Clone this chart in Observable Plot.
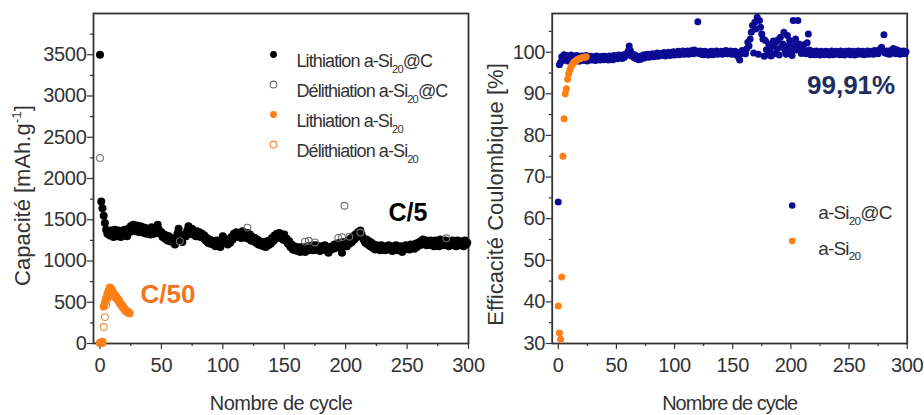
<!DOCTYPE html>
<html>
<head>
<meta charset="utf-8">
<script src="https://cdn.jsdelivr.net/npm/d3@7"></script>
<script src="https://cdn.jsdelivr.net/npm/@observablehq/plot@0.6"></script>
<style>
  html, body { margin: 0; padding: 0; background: #fff; }
  #figure { position: relative; width: 924px; height: 415px; overflow: hidden; }
  #figure > svg { position: absolute; top: 0; }
  .ticks text { letter-spacing: -0.3px; }
  .legend-l text { letter-spacing: -0.9px; }
  .legend-r text { letter-spacing: -0.8px; }
  .xtitle-l text { letter-spacing: -0.5px; }
  .xtitle-r text { letter-spacing: -1px; }
</style>
</head>
<body>
<div id="figure"></div>
<script>
// ---- Axis ticks -----------------------------------------------------------
const cycleTicks = [0, 50, 100, 150, 200, 250, 300];
const cycleMinor = [25, 75, 125, 175, 225, 275];
const capTicks = [0, 500, 1000, 1500, 2000, 2500, 3000, 3500];
const capMinor = [250, 750, 1250, 1750, 2250, 2750, 3250, 3750];
const ceTicks = [30, 40, 50, 60, 70, 80, 90, 100];
const ceMinor = [35, 45, 55, 65, 75, 85, 95, 105];

// ---- Text -------------------------------------------------------------------
const capLabel = "Capacité [mAh.g-1]";
const cycleLabel = "Nombre de cycle";
const ceLabel = "Efficacité Coulombique [%]";
const legendLeft = ["Lithiation a-Si20@C", "Délithiation a-Si20@C", "Lithiation a-Si20", "Délithiation a-Si20"];
const legendRight = ["a-Si20@C", "a-Si20"];
const rateLabels = ["C/5", "C/50"];
const meanCE = "99,91%";

// ---- Capacity (mAh/g), one value per cycle starting at cycle 0 -------------
// Lithiation a-Si20@C
const lithSiC = [
  3500, 1720, 1640, 1550, 1460, 1380, 1330, 1360, 1310, 1370,
  1330, 1290, 1380, 1340, 1300, 1370, 1320, 1290, 1360, 1310,
  1380, 1330, 1300, 1390, 1350, 1420, 1370, 1440, 1390, 1360,
  1430, 1380, 1350, 1420, 1370, 1410, 1340, 1400, 1330, 1370,
  1390, 1320, 1410, 1360, 1330, 1400, 1350, 1440, 1380, 1330,
  1350, 1290, 1320, 1270, 1310, 1250, 1300, 1240, 1280, 1230,
  1260, 1200, 1250, 1330, 1390, 1310, 1260, 1230, 1290, 1320,
  1300, 1370, 1420, 1360, 1330, 1390, 1320, 1350, 1300, 1360,
  1300, 1350, 1290, 1330, 1280, 1310, 1250, 1280, 1220, 1260,
  1210, 1250, 1200, 1240, 1180, 1250, 1200, 1230, 1170, 1240,
  1300, 1270, 1220, 1260, 1200, 1250, 1220, 1290, 1260, 1330,
  1300, 1350, 1290, 1340, 1310, 1280, 1360, 1300, 1330, 1280,
  1340, 1270, 1320, 1250, 1290, 1240, 1280, 1220, 1260, 1200,
  1240, 1190, 1230, 1180, 1220, 1170, 1240, 1190, 1250, 1210,
  1280, 1240, 1310, 1270, 1330, 1290, 1340, 1280, 1320, 1260,
  1320, 1250, 1270, 1210, 1240, 1170, 1200, 1140, 1180, 1130,
  1170, 1120, 1160, 1110, 1170, 1130, 1160, 1110, 1150, 1180,
  1130, 1170, 1140, 1190, 1130, 1160, 1190, 1140, 1170, 1120,
  1180, 1140, 1170, 1190, 1130, 1160, 1100, 1170, 1140, 1180,
  1150, 1200, 1160, 1210, 1170, 1220, 1180, 1100, 1230, 1190,
  1220, 1180, 1250, 1210, 1270, 1230, 1300, 1260, 1320, 1290,
  1350, 1310, 1370, 1320, 1280, 1250, 1220, 1260, 1200, 1240,
  1180, 1220, 1160, 1200, 1140, 1190, 1150, 1180, 1130, 1190,
  1150, 1180, 1130, 1170, 1140, 1190, 1150, 1170, 1120, 1180,
  1140, 1190, 1130, 1170, 1150, 1180, 1110, 1170, 1140, 1190,
  1150, 1180, 1140, 1200, 1160, 1190, 1150, 1210, 1170, 1220,
  1190, 1240, 1200, 1260, 1210, 1250, 1190, 1240, 1200, 1250,
  1190, 1240, 1180, 1250, 1200, 1230, 1180, 1260, 1200, 1240,
  1190, 1250, 1200, 1230, 1180, 1240, 1200, 1250, 1190, 1230,
  1180, 1250, 1200, 1240, 1190, 1230, 1180, 1250, 1200, 1220
];
// Délithiation a-Si20@C: cycles where it stands out from the lithiation band
const delithSiCCycles = [0, 65, 120, 167, 170, 175, 194, 197, 199, 203, 212, 282];
const delithSiCValues = [2250, 1240, 1405, 1235, 1245, 1225, 1280, 1290, 1670, 1295, 1345, 1275];
// Lithiation a-Si20 (C/50)
const lithSi = [
  10, 15, 20, 450, 500, 550, 600, 640, 680, 665,
  640, 610, 590, 570, 550, 530, 505, 480, 460, 440,
  420, 400, 390, 380, 370
];
// Délithiation a-Si20 (C/50)
const delithSi = [
  4, 5, 6, 200, 320, 470, 540, 590, 625, 620,
  605, 580, 565, 550, 535, 515, 490, 470, 450, 430,
  410, 392, 383, 374, 365
];

// ---- Coulombic efficiency (%), one value per cycle starting at cycle 0 -----
const ceSiC = [
  64, 97, 97.6, 98.9, 98.0, 99.4, 98.3, 99.2, 97.9, 99.0,
  98.2, 99.3, 98.4, 97.9, 99.1, 98.1, 99.2, 98.5, 97.8, 99.0,
  98.3, 99.1, 98.0, 98.7, 99.2, 97.9, 98.8, 98.2, 99.0, 98.1,
  98.9, 98.3, 98.0, 99.1, 98.4, 98.9, 98.1, 98.7, 99.0, 98.2,
  99.0, 98.3, 98.8, 98.1, 99.1, 98.5, 98.9, 98.2, 99.2, 98.6,
  99.1, 98.4, 99.3, 98.7, 99.0, 98.5, 99.4, 98.8, 99.2, 99.6,
  100.2, 101.5, 100.4, 99.1, 99.5, 98.7, 99.3, 98.4, 98.8, 98.2,
  99.0, 98.3, 98.7, 99.3, 98.6, 99.4, 98.9, 99.5, 98.8, 99.3,
  99.0, 99.6, 98.9, 99.5, 99.1, 99.8, 99.0, 99.6, 99.2, 99.7,
  99.3, 99.9, 99.1, 99.7, 99.4, 100.0, 99.2, 99.8, 99.4, 100.1,
  99.3, 99.9, 99.5, 100.2, 99.4, 100.0, 99.6, 100.3, 99.5, 100.1,
  99.6, 100.3, 99.5, 100.2, 99.7, 100.4, 99.6, 100.5, 99.8, 100.2,
  107.3, 99.7, 100.3, 99.5, 100.1, 99.4, 100.2, 99.6, 100.0, 99.3,
  100.1, 99.5, 100.2, 99.4, 99.9, 99.6, 100.3, 99.5, 100.0, 99.7,
  100.2, 99.5, 100.1, 99.7, 100.4, 99.6, 100.0, 99.8, 100.3, 99.5,
  100.1, 99.6, 100.2, 99.4, 99.9, 98.8, 98.1, 99.6, 100.4, 100.0,
  100.3, 99.6, 100.8, 102.4, 101.5, 103.2, 104.8, 106.4, 99.8, 107.2,
  105.6, 108.4, 99.5, 107.6, 106.0, 104.4, 103.2, 99.0, 102.8, 100.6,
  99.4, 102.0, 100.2, 99.1, 101.5, 102.7, 99.6, 102.4, 100.8, 103.0,
  99.3, 103.6, 101.2, 102.0, 104.8, 100.4, 99.5, 104.0, 101.6, 102.8,
  100.2, 99.2, 107.6, 101.6, 103.2, 100.5, 107.6, 102.0, 101.2, 99.7,
  100.6, 101.8, 100.4, 99.6, 102.3, 104.4, 100.5, 99.4, 100.2, 99.5,
  100.1, 99.4, 100.3, 99.6, 99.9, 99.3, 100.2, 99.5, 100.0, 99.4,
  100.2, 99.5, 100.1, 99.3, 99.9, 100.3, 99.4, 100.0, 99.5, 100.2,
  99.6, 100.1, 99.4, 100.3, 99.5, 100.0, 99.3, 100.2, 99.6, 99.9,
  100.3, 99.4, 100.1, 99.6, 100.2, 99.3, 100.0, 99.5, 100.3, 99.6,
  100.1, 99.5, 100.2, 99.4, 100.0, 99.6, 100.3, 99.5, 100.1, 99.7,
  100.2, 99.5, 100.4, 99.8, 100.1, 99.6, 100.5, 100.8, 101.2, 100.3,
  104.2, 99.8, 100.3, 99.6, 100.2, 99.5, 100.4, 99.9, 100.9, 100.2,
  99.6, 100.6, 99.8, 100.3, 99.5, 100.2, 99.7, 100.3, 99.6, 100.1
];
const ceSi = [
  39, 32.5, 31, 46, 75, 84, 90, 91.2, 93.5, 94.8,
  95.8, 96.5, 97.0, 97.4, 97.7, 97.9, 98.1, 98.3, 98.4, 98.5,
  98.6, 98.7, 98.8, 98.8, 98.9
];

// ---- Rows for the marks ------------------------------------------------------
const rows = values => values.map((value, cycle) => ({cycle, value}));
const pairRows = (cycles, values) => cycles.map((cycle, i) => ({cycle, value: values[i]}));

// ---- Styling -------------------------------------------------------------------
const FONT = "'Liberation Sans', Arial, Helvetica, sans-serif";
const INK = "#333";
const BLACK = "#000";
const GREY = "#6e6e6e";
const ORANGE = "#ff7f14";
const ORANGE_OPEN = "#f7883a";
const NAVY = "#0b0b94";
const R = 4.0;

const leftStyles = [
  {fill: BLACK},
  {fill: "none", stroke: GREY, strokeWidth: 1.1},
  {fill: ORANGE},
  {fill: "none", stroke: ORANGE_OPEN, strokeWidth: 1.1}
];
const rightStyles = [{fill: NAVY}, {fill: ORANGE}];
const plain = d => String(d);

function axes(xMajor, xMinor, yMajor, yMinor) {
  return [
    Plot.axisY(yMinor, {tickSize: 3, tickFormat: () => "", label: null, strokeWidth: 1.2}),
    Plot.axisY(yMajor, {tickSize: 6, tickPadding: 1, tickFormat: plain, fontSize: 20, label: null, strokeWidth: 1.2, className: "ticks"}),
    Plot.axisX(xMinor, {tickSize: 3, tickFormat: () => "", label: null, strokeWidth: 1.2}),
    Plot.axisX(xMajor, {tickSize: 6, tickPadding: 8, tickFormat: plain, fontSize: 20, label: null, strokeWidth: 1.2, className: "ticks"}),
    Plot.frame({stroke: "#333", strokeWidth: 1.8})
  ];
}

// ---- Left panel: capacity ---------------------------------------------------------
const left = Plot.plot({
  width: 470,
  height: 415,
  marginTop: 13,
  marginBottom: 72,
  marginLeft: 93,
  marginRight: 2,
  x: {domain: [-5.3, 300], label: null},
  y: {domain: [0, 4000], label: null},
  style: {fontFamily: FONT, background: "transparent", overflow: "visible", color: INK},
  marks: [
    ...axes(cycleTicks, cycleMinor, capTicks, capMinor),
    Plot.dot(rows(lithSiC), {x: "cycle", y: "value", r: R, ...leftStyles[0]}),
    Plot.dot(pairRows(delithSiCCycles, delithSiCValues), {x: "cycle", y: "value", r: 3.4, ...leftStyles[1]}),
    Plot.dot(rows(delithSi), {x: "cycle", y: "value", r: 3.4, ...leftStyles[3]}),
    Plot.dot(rows(lithSi), {x: "cycle", y: "value", r: R, ...leftStyles[2]}),
    ...legendLeft.flatMap((label, i) => [
      Plot.dot([label], {frameAnchor: "top-left", dx: 180, dy: 41 + 30 * i, r: 3.4, ...leftStyles[i]}),
      Plot.text([label], {frameAnchor: "top-left", dx: 203, dy: 41 + 30 * i, text: d => d,
        textAnchor: "start", fontSize: 18, fill: INK, className: "legend-l"})
    ]),
    Plot.text([rateLabels[0]], {frameAnchor: "top-left", dx: 295, dy: 207, text: d => d,
      textAnchor: "start", lineAnchor: "bottom", fontSize: 25, fontWeight: "bold", fill: BLACK}),
    Plot.text([rateLabels[1]], {frameAnchor: "top-left", dx: 47, dy: 289, text: d => d,
      textAnchor: "start", lineAnchor: "bottom", fontSize: 26, fontWeight: "bold", fill: "#f27420"}),
    Plot.text([capLabel], {frameAnchor: "left", rotate: -90, dx: -64, dy: 17, text: d => d,
      textAnchor: "middle", lineAnchor: "bottom", fontSize: 22, fill: INK}),
    Plot.text([cycleLabel], {frameAnchor: "bottom", dy: 66, text: d => d,
      textAnchor: "middle", lineAnchor: "bottom", fontSize: 20, fill: INK, className: "xtitle-l"})
  ]
});

// ---- Right panel: coulombic efficiency -------------------------------------------
const right = Plot.plot({
  width: 454,
  height: 415,
  marginTop: 13,
  marginBottom: 72,
  marginLeft: 81.7,
  marginRight: 17.3,
  x: {domain: [-5.2, 300], label: null},
  y: {domain: [30, 109.3], label: null},
  style: {fontFamily: FONT, background: "transparent", overflow: "visible", color: INK},
  marks: [
    ...axes(cycleTicks, cycleMinor, ceTicks, ceMinor),
    Plot.dot(rows(ceSiC), {x: "cycle", y: "value", r: 3.5, ...rightStyles[0]}),
    Plot.dot(rows(ceSi), {x: "cycle", y: "value", r: 3.5, ...rightStyles[1]}),
    ...legendRight.flatMap((label, i) => [
      Plot.dot([label], {frameAnchor: "top-left", dx: 240, dy: 192 + 35.5 * i, r: 3.3, ...rightStyles[i]}),
      Plot.text([label], {frameAnchor: "top-left", dx: 266, dy: 192 + 35.5 * i, text: d => d,
        textAnchor: "start", fontSize: 19, fill: INK, className: "legend-r"})
    ]),
    Plot.text([meanCE], {frameAnchor: "top-right", dx: -12, dy: 80, text: d => d,
      textAnchor: "end", lineAnchor: "bottom", fontSize: 26, fontWeight: "bold", fill: "#1e2d5c"}),
    Plot.text([ceLabel], {frameAnchor: "left", rotate: -90, dx: -49, dy: 16, text: d => d,
      textAnchor: "middle", lineAnchor: "bottom", fontSize: 22, fill: INK}),
    Plot.text([cycleLabel], {frameAnchor: "bottom", dy: 66, text: d => d,
      textAnchor: "middle", lineAnchor: "bottom", fontSize: 20, fill: INK, className: "xtitle-r"})
  ]
});

const fig = document.getElementById("figure");
left.style.left = "0px";
right.style.left = "470px";
fig.appendChild(left);
fig.appendChild(right);

// Chemical subscripts (Si20) and the unit exponent (g-1) as tspans
const NS = "http://www.w3.org/2000/svg";
function span(parent, txt, dy, size) {
  const t = document.createElementNS(NS, "tspan");
  t.textContent = txt;
  if (dy) t.setAttribute("dy", dy);
  if (size) t.setAttribute("font-size", size);
  parent.appendChild(t);
}
function richText(svg) {
  svg.querySelectorAll("text").forEach(el => {
    const s = el.textContent;
    const re = /Si20|g-1/g;
    if (!re.test(s)) return;
    re.lastIndex = 0;
    const fs = parseFloat(getComputedStyle(el).fontSize);
    while (el.firstChild) el.removeChild(el.firstChild);
    let last = 0, offset = 0, m;
    while ((m = re.exec(s))) {
      const isSub = m[0].startsWith("Si");
      const base = isSub ? "Si" : "g";
      span(el, s.slice(last, m.index) + base, offset ? -offset : null);
      const d = isSub ? 0.3 * fs : -0.4 * fs;
      span(el, m[0].slice(base.length), d, 0.62 * fs);
      offset = d;
      last = m.index + m[0].length;
    }
    const rest = s.slice(last);
    if (rest) span(el, rest, offset ? -offset : null);
  });
}
richText(left);
richText(right);
</script>
</body>
</html>
